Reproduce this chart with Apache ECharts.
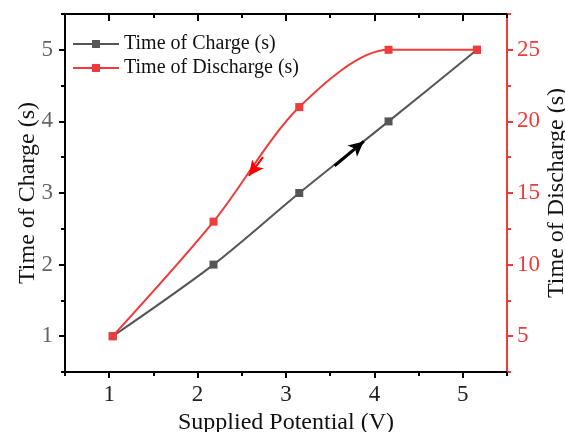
<!DOCTYPE html>
<html>
<head>
<meta charset="utf-8">
<script src="https://cdn.jsdelivr.net/npm/echarts@6/dist/echarts.min.js"></script>
<style>
  html, body { margin: 0; padding: 0; background: #fff; }
  #chart { width: 565px; height: 432px; }
</style>
</head>
<body>
<div id="chart"></div>
<script>
// ---- data ----
const potential = [1.04, 2.18, 3.15, 4.16, 5.16];
const chargeTime = [1, 2, 3, 4, 5];
const dischargeTime = [5, 13, 21, 25, 25];

const xMajorTicks = [1, 2, 3, 4, 5];
const xMinorTicks = [0.5, 1.5, 2.5, 3.5, 4.5, 5.5];
const leftMajorTicks = [1, 2, 3, 4, 5];
const leftMinorTicks = [0.5, 1.5, 2.5, 3.5, 4.5, 5.5];
const rightMajorTicks = [5, 10, 15, 20, 25];
const rightMinorTicks = [2.5, 7.5, 12.5, 17.5, 22.5, 27.5];

// arrow annotations [start, end] in data units
const chargeArrow = [[3.55, 3.38], [3.88, 3.72]];
const dischargeArrow = [[2.74, 17.5], [2.58, 16.2]];

const FONT = "'Liberation Serif', 'Times New Roman', serif";
const BLACK_SERIES = '#555555';
const RED = '#ef3b3b';

const chart = echarts.init(document.getElementById('chart'), null, { renderer: 'canvas' });

function xAx(pos, ticks, len, inside, showLine, showLabel, extra) {
  return Object.assign({
    type: 'value', position: pos, min: 0.5, max: 5.5,
    axisLine: { show: showLine, onZero: false, lineStyle: { color: '#000', width: 2 } },
    axisTick: { show: true, inside: inside, length: len, customValues: ticks, lineStyle: { color: '#000', width: 2 } },
    axisLabel: { show: showLabel, customValues: ticks },
    splitLine: { show: false }
  }, extra || {});
}
function yAx(pos, min, max, ticks, len, color, showLine, showLabel, extra) {
  return Object.assign({
    type: 'value', position: pos, min: min, max: max,
    axisLine: { show: showLine, onZero: false, lineStyle: { color: color, width: 2 } },
    axisTick: { show: true, inside: false, length: len, customValues: ticks, lineStyle: { color: color, width: 2 } },
    axisLabel: { show: showLabel, customValues: ticks },
    splitLine: { show: false }
  }, extra || {});
}

const option = {
  animation: false,
  backgroundColor: '#fff',
  grid: { left: 65, right: 58, top: 14, bottom: 60, outerBoundsMode: 'none', containLabel: false },
  legend: {
    orient: 'vertical', left: 72, top: 34, itemGap: 4, padding: 0,
    itemWidth: 46, itemHeight: 10,
    textStyle: { fontFamily: FONT, fontSize: 20, color: '#111' },
    data: ['Time of Charge (s)', 'Time of Discharge (s)']
  },
  xAxis: [
    xAx('bottom', xMajorTicks, 6, false, true, true, {
      name: 'Supplied Potential (V)', nameLocation: 'middle', nameGap: 39, nameMoveOverlap: false,
      nameTextStyle: { fontFamily: FONT, fontSize: 24, color: '#111' },
      axisLabel: { show: true, customValues: xMajorTicks, fontFamily: FONT, fontSize: 23, color: '#222', margin: 11 }
    }),
    xAx('bottom', xMinorTicks, 4, false, false, false),
    xAx('top', xMajorTicks, 7, true, true, false),
    xAx('top', xMinorTicks, 4, true, false, false)
  ],
  yAxis: [
    yAx('left', 0.5, 5.5, leftMajorTicks, 6, '#000', true, true, {
      name: 'Time of Charge (s)', nameLocation: 'middle', nameGap: 25, nameMoveOverlap: false,
      nameTextStyle: { fontFamily: FONT, fontSize: 24, color: '#111' },
      axisLabel: { show: true, customValues: leftMajorTicks, fontFamily: FONT, fontSize: 23, color: '#666', margin: 12 }
    }),
    yAx('left', 0.5, 5.5, leftMinorTicks, 4, '#000', false, false),
    yAx('right', 2.5, 27.5, rightMajorTicks, 6, RED, true, true, {
      name: 'Time of Discharge (s)', nameLocation: 'middle', nameGap: 38, nameMoveOverlap: false,
      nameTextStyle: { fontFamily: FONT, fontSize: 24, color: '#111' },
      axisLabel: { show: true, customValues: rightMajorTicks, fontFamily: FONT, fontSize: 23, color: RED, margin: 10 }
    }),
    yAx('right', 2.5, 27.5, rightMinorTicks, 4, RED, false, false)
  ],
  series: [
    {
      name: 'Time of Charge (s)', type: 'line', xAxisIndex: 0, yAxisIndex: 0,
      data: potential.map((x, i) => [x, chargeTime[i]]),
      smooth: 0.3, symbol: 'rect', symbolSize: 8,
      itemStyle: { color: BLACK_SERIES }, lineStyle: { color: BLACK_SERIES, width: 2 },
      markLine: {
        silent: true, symbol: ['none', 'arrow'], symbolSize: [11, 15],
        label: { show: false }, lineStyle: { color: '#000', width: 3, type: 'solid' },
        emphasis: { disabled: true },
        data: [[{ coord: chargeArrow[0] }, { coord: chargeArrow[1] }]]
      },
      z: 3
    },
    {
      name: 'Time of Discharge (s)', type: 'line', xAxisIndex: 0, yAxisIndex: 2,
      data: potential.map((x, i) => [x, dischargeTime[i]]),
      smooth: 0.3, symbol: 'rect', symbolSize: 8,
      itemStyle: { color: RED }, lineStyle: { color: RED, width: 2 },
      markLine: {
        silent: true, symbol: ['none', 'arrow'], symbolSize: [11, 15],
        label: { show: false }, lineStyle: { color: '#f00', width: 2, type: 'solid' },
        emphasis: { disabled: true },
        data: [[{ coord: dischargeArrow[0] }, { coord: dischargeArrow[1] }]]
      },
      z: 4
    }
  ]
};
chart.setOption(option);
</script>
</body>
</html>
